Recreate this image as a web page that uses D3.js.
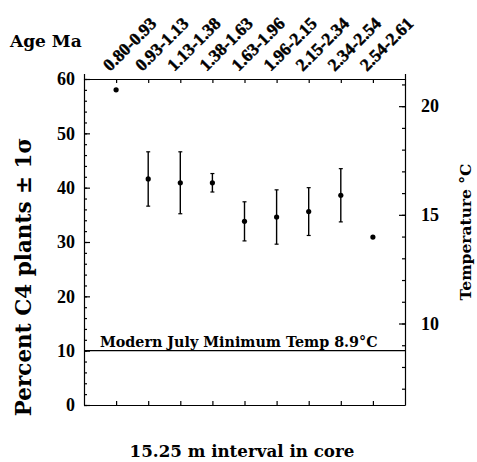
<!DOCTYPE html>
<html>
<head>
<meta charset="utf-8">
<script src="https://cdn.jsdelivr.net/npm/d3@7"></script>
<style>
  body { margin: 0; background: #fff; }
  text { font-family: "DejaVu Serif", serif; font-weight: bold; fill: #000; }
  .axis path, .axis line { stroke: #000; stroke-width: 1.2; }
  .num { font-family: "Liberation Serif", "Times New Roman", serif; font-weight: bold; }
  .age { stroke: #000; stroke-width: 0.45px; }
</style>
</head>
<body>
<div id="chart"></div>
<script>
// age intervals (Ma) for each core interval
var ages = ["0.80-0.93", "0.93-1.13", "1.13-1.38", "1.38-1.63", "1.63-1.96",
            "1.96-2.15", "2.15-2.34", "2.34-2.54", "2.54-2.61"];
// percent C4 plants
var pct = [58.0, 41.6, 40.9, 40.9, 33.8, 34.6, 35.6, 38.6, 30.9];
// one sigma (null = no error bar)
var sigma = [null, 5.0, 5.7, 1.7, 3.6, 5.0, 4.4, 4.9, null];

var leftTicks = [0, 10, 20, 30, 40, 50, 60];
var tempTicks = [10, 15, 20];
var modernLevel = 10;
var modernLabel = "Modern July Minimum Temp 8.9°C";

var width = 477, height = 462;
var margin = {left: 84, top: 79, right: 72, bottom: 57};

var svg = d3.select("#chart").append("svg")
    .attr("width", width)
    .attr("height", height);

var x = d3.scaleLinear().domain([0, ages.length + 1]).range([margin.left, width - margin.right]);
var y = d3.scaleLinear().domain([0, 60]).range([height - margin.bottom, margin.top]);
// temperature axis is a linear transform of percent: T = 6.25 + 0.25 * pct
var yT = d3.scaleLinear().domain([6.25, 21.25]).range([height - margin.bottom, margin.top]);

var xTicks = d3.range(1, ages.length + 1);
var plotTop = y(60), plotBottom = y(0);

// //////////////// left axis ////////////////
svg.append("g").attr("class", "axis")
    .attr("transform", "translate(" + margin.left + ",0)")
    .call(d3.axisLeft(y).tickValues(d3.range(0, 61, 2)).tickSizeInner(-3).tickSizeOuter(0).tickFormat(""));
svg.append("g").attr("class", "axis left")
    .attr("transform", "translate(" + margin.left + ",0)")
    .call(d3.axisLeft(y).tickValues(leftTicks).tickSizeInner(-6).tickSizeOuter(0).tickPadding(9))
    .call(function(g) { g.select(".domain").remove(); })
    .selectAll("text").attr("class", "num").style("font-size", "18px").attr("font-family", null);

// //////////////// right axis ////////////////
var rx = width - margin.right;
svg.append("g").attr("class", "axis")
    .attr("transform", "translate(" + rx + ",0)")
    .call(d3.axisRight(yT).tickValues(d3.range(7, 22)).tickSizeInner(-3).tickSizeOuter(0).tickFormat(""));
svg.append("g").attr("class", "axis right")
    .attr("transform", "translate(" + rx + ",0)")
    .call(d3.axisRight(yT).tickValues(tempTicks).tickSizeInner(-6).tickSizeOuter(0).tickPadding(16))
    .call(function(g) { g.select(".domain").remove(); })
    .selectAll("text").attr("class", "num").style("font-size", "18px").attr("font-family", null);

// //////////////// top & bottom axes ////////////////
svg.append("g").attr("class", "axis")
    .attr("transform", "translate(0," + plotTop + ")")
    .call(d3.axisTop(x).tickValues(xTicks).tickSizeInner(-4).tickSizeOuter(5).tickFormat(""));
svg.append("g").attr("class", "axis")
    .attr("transform", "translate(0," + plotBottom + ")")
    .call(d3.axisBottom(x).tickValues(xTicks).tickSizeInner(-4).tickSizeOuter(0).tickFormat(""));

// age labels, rotated
svg.append("g").selectAll("text.age")
    .data(ages)
    .enter().append("text")
    .attr("class", "age num")
    .attr("transform", function(d, i) {
        return "translate(" + (x(i + 1) - 6) + "," + (plotTop - 7) + ") rotate(-45)";
    })
    .style("font-size", "17.5px")
    .text(function(d) { return d; });

// //////////////// modern reference line ////////////////
svg.append("line")
    .attr("x1", x(0)).attr("x2", x(ages.length + 1))
    .attr("y1", y(modernLevel)).attr("y2", y(modernLevel))
    .attr("stroke", "#000").attr("stroke-width", 1.2);
svg.append("text")
    .attr("x", x(0) + 16)
    .attr("y", y(modernLevel) - 4)
    .style("font-size", "14.3px")
    .text(modernLabel);

// //////////////// error bars & points ////////////////
var bars = svg.append("g").selectAll("g.bar")
    .data(pct.map(function(p, i) { return {i: i, p: p, s: sigma[i]}; }).filter(function(d) { return d.s !== null; }))
    .enter().append("g").attr("class", "bar");
bars.append("line")
    .attr("x1", function(d) { return x(d.i + 1); })
    .attr("x2", function(d) { return x(d.i + 1); })
    .attr("y1", function(d) { return y(d.p + d.s); })
    .attr("y2", function(d) { return y(d.p - d.s); })
    .attr("stroke", "#000").attr("stroke-width", 1.4);
[1, -1].forEach(function(k) {
    bars.append("line")
        .attr("x1", function(d) { return x(d.i + 1) - 2; })
        .attr("x2", function(d) { return x(d.i + 1) + 2; })
        .attr("y1", function(d) { return y(d.p + k * d.s); })
        .attr("y2", function(d) { return y(d.p + k * d.s); })
        .attr("stroke", "#000").attr("stroke-width", 1.2);
});

svg.append("g").selectAll("circle")
    .data(pct)
    .enter().append("circle")
    .attr("cx", function(d, i) { return x(i + 1); })
    .attr("cy", function(d) { return y(d); })
    .attr("r", 2.6)
    .attr("fill", "#000");

// //////////////// titles ////////////////
svg.append("text")
    .attr("x", 10).attr("y", 47)
    .style("font-size", "17px")
    .text("Age Ma");

svg.append("text")
    .attr("transform", "translate(31,277) rotate(-90)")
    .attr("text-anchor", "middle")
    .style("font-size", "21.5px")
    .text("Percent C4 plants ± 1σ");

svg.append("text")
    .attr("transform", "translate(471,232) rotate(-90)")
    .attr("text-anchor", "middle")
    .style("font-size", "15.5px")
    .text("Temperature °C");

svg.append("text")
    .attr("x", 242).attr("y", 457)
    .attr("text-anchor", "middle")
    .style("font-size", "16.7px")
    .text("15.25 m interval in core");
</script>
</body>
</html>
